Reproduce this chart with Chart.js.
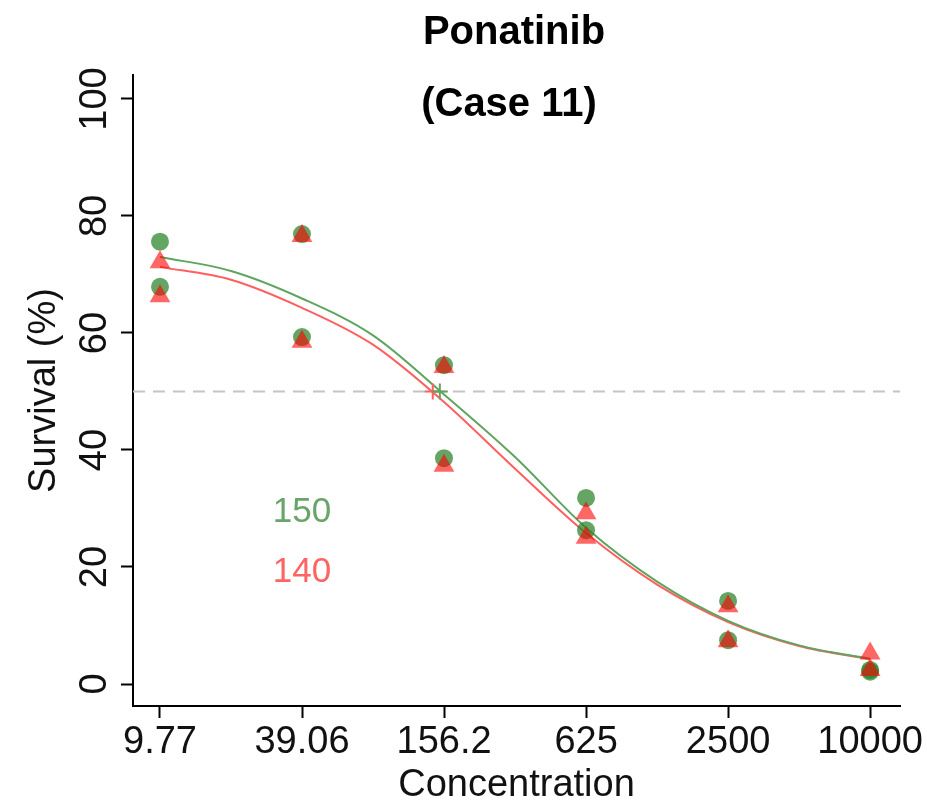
<!DOCTYPE html>
<html>
<head>
<meta charset="utf-8">
<script src="https://cdn.jsdelivr.net/npm/chart.js@4.4.0/dist/chart.umd.min.js"></script>
<style>
  html, body { margin: 0; padding: 0; background: #fff; }
  #wrap { width: 927px; height: 809px; }
</style>
</head>
<body>
<div id="wrap"><canvas id="doseChart" width="927" height="809"></canvas></div>
<script>
// concentrations (x, log4 spaced) and tick labels
const concentrations = [9.77, 39.06, 156.2, 625, 2500, 10000];
const tickLabels = ["9.77", "39.06", "156.2", "625", "2500", "10000"];
const yTicks = [0, 20, 40, 60, 80, 100];

// replicate survival values
const green1 = [75.6, 76.9, 54.5, 31.8, 14.2, 2.4];
const green2 = [67.9, 59.3, 38.6, 26.3, 7.5, 2.1];
const red1 = [72.1, 76.6, 54.2, 29.2, 13.3, 5.2];
const red2 = [66.3, 58.5, 37.3, 25.0, 7.3, 2.4];

// fitted curves, read at half steps
const curveConc = [9.77, 19.54, 39.06, 78.12, 156.2, 312.5, 625, 1250, 2500, 5000, 10000];
const greenCurve = [73.0, 70.6, 65.9, 59.6, 49.5, 38.8, 26.7, 17.5, 10.8, 6.6, 4.3];
const redCurve = [71.3, 69.1, 64.3, 58.0, 48.2, 36.8, 25.8, 17.0, 10.6, 6.5, 4.2];

// IC50 values
const ic50 = [150, 140];
const ic50Level = 50;

const GREEN_PT = "rgba(40,130,40,0.72)";
const RED_PT = "rgba(255,0,0,0.6)";
const GREEN_LINE = "rgb(95,165,95)";
const RED_LINE = "rgb(255,95,95)";

// position on a log4 axis, 9.77 -> 0
function lx(c) {
    return Math.log(c / concentrations[0]) / Math.log(4);
}

function pts(xs, ys) {
    return xs.map((c, i) => ({ x: lx(c), y: ys[i] }));
}

const FONT = "'Liberation Sans', Arial, sans-serif";

// dashed 50% line, IC50 labels and the two title lines
const extras = {
    id: "extras",
    beforeDatasetsDraw(chart) {
        const { ctx, chartArea, scales } = chart;
        const y = scales.y.getPixelForValue(ic50Level);
        ctx.save();
        ctx.strokeStyle = "#c4c4c4";
        ctx.lineWidth = 2;
        ctx.setLineDash([12, 8]);
        ctx.beginPath();
        ctx.moveTo(chartArea.left, y);
        ctx.lineTo(chartArea.right, y);
        ctx.stroke();
        ctx.restore();
    },
    afterDraw(chart) {
        const { ctx, scales } = chart;
        ctx.save();
        ctx.textAlign = "center";
        ctx.textBaseline = "middle";
        ctx.font = "35px " + FONT;
        const tx = scales.x.getPixelForValue(1);
        ctx.fillStyle = "rgb(105,165,105)";
        ctx.fillText(String(ic50[0]), tx, scales.y.getPixelForValue(29.4));
        ctx.fillStyle = "rgb(255,100,100)";
        ctx.fillText(String(ic50[1]), tx, scales.y.getPixelForValue(19.1));

        ctx.fillStyle = "#000";
        ctx.textBaseline = "alphabetic";
        ctx.font = "bold 40px " + FONT;
        ctx.fillText("Ponatinib", 514, 44);
        ctx.fillText("(Case 11)", 509, 116);
        ctx.restore();
    }
};

const ctx = document.getElementById("doseChart").getContext("2d");
const chart = new Chart(ctx, {
    type: "scatter",
    data: {
        datasets: [
            {
                label: "red points",
                data: pts(concentrations, red1).concat(pts(concentrations, red2)),
                backgroundColor: RED_PT,
                borderWidth: 0,
                pointStyle: "triangle",
                pointRadius: 12,
                order: 1
            },
            {
                label: "green points",
                data: pts(concentrations, green1).concat(pts(concentrations, green2)),
                backgroundColor: GREEN_PT,
                borderWidth: 0,
                pointStyle: "circle",
                pointRadius: 9,
                order: 2
            },
            {
                label: "green fit",
                type: "line",
                data: pts(curveConc, greenCurve),
                borderColor: GREEN_LINE,
                borderWidth: 2,
                pointRadius: 0,
                cubicInterpolationMode: "monotone",
                fill: false,
                order: 3
            },
            {
                label: "red fit",
                type: "line",
                data: pts(curveConc, redCurve),
                borderColor: RED_LINE,
                borderWidth: 2,
                pointRadius: 0,
                cubicInterpolationMode: "monotone",
                fill: false,
                order: 4
            },
            {
                label: "IC50 green",
                data: [{ x: lx(ic50[0]), y: ic50Level }],
                borderColor: GREEN_LINE,
                borderWidth: 2,
                pointStyle: "cross",
                pointRadius: 8,
                order: 0
            },
            {
                label: "IC50 red",
                data: [{ x: lx(ic50[1]), y: ic50Level }],
                borderColor: RED_LINE,
                borderWidth: 2,
                pointStyle: "cross",
                pointRadius: 8,
                order: 0
            }
        ]
    },
    options: {
        responsive: false,
        animation: false,
        layout: { padding: { top: 75, right: 27, left: 0, bottom: 0 } },
        plugins: {
            legend: { display: false },
            tooltip: { enabled: false }
        },
        scales: {
            x: {
                type: "linear",
                min: -0.19,
                max: 5.21,
                afterBuildTicks: s => { s.ticks = tickLabels.map((t, i) => ({ value: i })); },
                afterFit: s => { s.height = 103; s.paddingLeft = 0; s.paddingRight = 0; },
                border: { display: true, color: "#000", width: 2 },
                grid: { drawOnChartArea: false, drawTicks: true, tickLength: 12, color: "#000", tickWidth: 2 },
                ticks: {
                    autoSkip: false,
                    maxRotation: 0,
                    padding: 2,
                    color: "#111",
                    font: { family: FONT, size: 38 },
                    callback: v => tickLabels[Math.round(v)]
                },
                title: {
                    display: true,
                    text: "Concentration",
                    color: "#111",
                    font: { family: FONT, size: 38 },
                    padding: { top: 0, bottom: 1 }
                }
            },
            y: {
                min: -3.76,
                max: 104.1,
                afterBuildTicks: s => { s.ticks = yTicks.map(v => ({ value: v })); },
                afterFit: s => { s.width = 133; },
                border: { display: true, color: "#000", width: 2 },
                grid: { drawOnChartArea: false, drawTicks: true, tickLength: 12, color: "#000", tickWidth: 2 },
                ticks: {
                    autoSkip: false,
                    minRotation: 90,
                    maxRotation: 90,
                    crossAlign: "center",
                    padding: -6,
                    color: "#111",
                    font: { family: FONT, size: 38 }
                },
                title: {
                    display: true,
                    text: "Survival (%)",
                    color: "#111",
                    font: { family: FONT, size: 38 },
                    padding: { top: 22, bottom: 0 }
                }
            }
        }
    },
    plugins: [extras]
});
</script>
</body>
</html>
